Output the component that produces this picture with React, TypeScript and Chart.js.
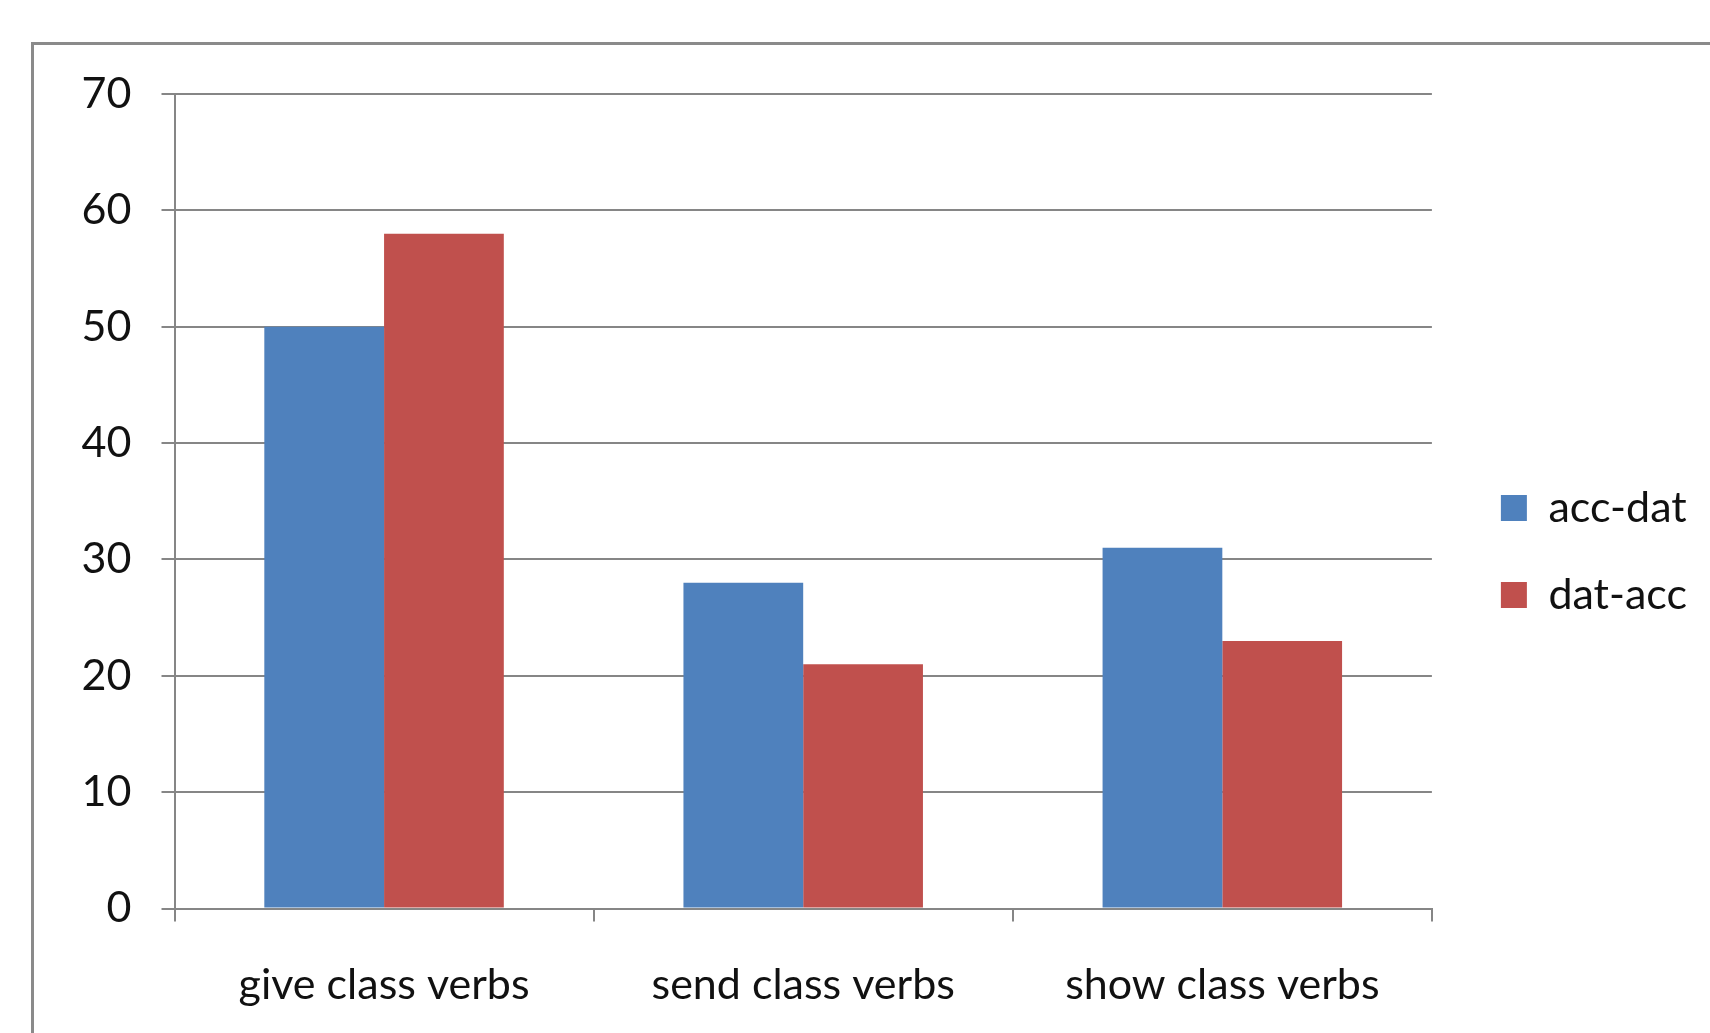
import React, { useEffect, useRef } from "react";
import { Chart, registerables } from "chart.js";

Chart.register(...registerables);

const categories = ["give class verbs", "send class verbs", "show class verbs"];
const seriesNames = ["acc-dat", "dat-acc"];
const accDatValues = [50, 28, 31];
const datAccValues = [58, 21, 23];
const yMin = 0;
const yMax = 70;
const yStep = 10;

const BLUE = "#4F81BD";
const RED = "#C0504D";
const GRID = "#868686";
const FONT = "Lato, 'Open Sans', sans-serif";
const LEGEND_EXTRA = 25;

const legendShift = {
  id: "legendShift",
  beforeLayout(chart: any) {
    const lg = chart.legend;
    if (lg && !lg.__wrapped) {
      const orig = lg.fit.bind(lg);
      lg.fit = function () {
        orig();
        this.width += LEGEND_EXTRA;
      };
      lg.__wrapped = true;
    }
  },
  afterLayout(chart: any) {
    const lg = chart.legend;
    if (lg) {
      lg.left += LEGEND_EXTRA;
      if (typeof lg.adjustHitBoxes === "function") lg.adjustHitBoxes();
    }
  },
};

export default function App() {
  const canvasRef = useRef<HTMLCanvasElement | null>(null);

  useEffect(() => {
    const canvas = canvasRef.current;
    if (!canvas) return;
    const font = { family: FONT, size: 43 };
    const chart = new Chart(canvas, {
      type: "bar",
      data: {
        labels: categories,
        datasets: [
          {
            label: seriesNames[0],
            data: accDatValues,
            backgroundColor: BLUE,
            borderWidth: 0,
            categoryPercentage: 2 / 3.5,
            barPercentage: 1,
          },
          {
            label: seriesNames[1],
            data: datAccValues,
            backgroundColor: RED,
            borderWidth: 0,
            categoryPercentage: 2 / 3.5,
            barPercentage: 1,
          },
        ],
      },
      plugins: [legendShift],
      options: {
        responsive: false,
        animation: false,
        layout: { padding: { top: 94, bottom: 24, left: 0, right: 13 } },
        plugins: {
          legend: {
            position: "right",
            align: "center",
            labels: {
              boxWidth: 26,
              boxHeight: 26,
              padding: 44,
              color: "#111",
              font,
            },
          },
          tooltip: { enabled: false },
        },
        scales: {
          x: {
            grid: {
              offset: true,
              drawOnChartArea: false,
              drawTicks: true,
              tickLength: 13,
              color: GRID,
              lineWidth: 2,
            },
            border: { color: GRID, width: 2 },
            ticks: { font, color: "#111", padding: 38 },
            afterFit: (scale: any) => {
              scale.height = 100.5;
            },
          },
          y: {
            min: yMin,
            max: yMax,
            ticks: { stepSize: yStep, font, color: "#111", padding: 30 },
            grid: {
              color: GRID,
              lineWidth: 2,
              drawTicks: true,
              tickLength: 13,
            },
            border: { color: GRID, width: 2 },
            afterFit: (scale: any) => {
              scale.width = 174.5;
            },
          },
        },
      },
    });
    return () => chart.destroy();
  }, []);

  return (
    <div
      style={{
        position: "fixed",
        left: 0,
        top: 0,
        width: 1710,
        height: 1033,
        overflow: "hidden",
        background: "#fff",
      }}
    >
      <div
        style={{
          position: "absolute",
          left: 31,
          top: 42,
          width: 1760,
          height: 1100,
          borderLeft: "3px solid #8a8a8a",
          borderTop: "3px solid #8a8a8a",
        }}
      />
      <canvas
        ref={canvasRef}
        width={1710}
        height={1033}
        style={{ position: "absolute", left: 0, top: 0, width: 1710, height: 1033 }}
      />
    </div>
  );
}
